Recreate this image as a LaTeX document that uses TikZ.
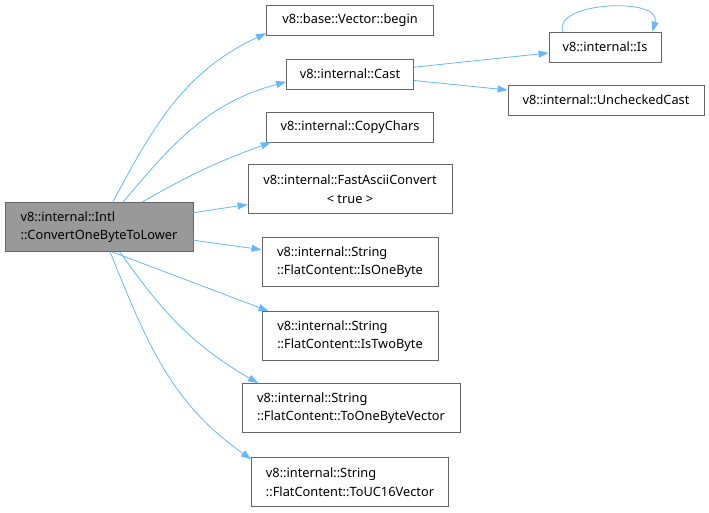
\documentclass[tikz,border=0pt]{standalone}
\usepackage{fontspec}
\setmainfont{Noto Sans}
\usetikzlibrary{arrows.meta,positioning}
\definecolor{cgEdge}{HTML}{63B8FF}
\definecolor{cgBorder}{HTML}{666666}
\definecolor{cgRoot}{HTML}{999999}
\tikzset{
  fnnode/.style={
    draw=cgBorder, fill=white, line width=0.8pt, inner xsep=7pt, inner ysep=0pt,
    minimum height=30pt, font=\fontsize{12.8}{18.5}\selectfont, align=left
  },
  fnwide/.style={fnnode, minimum height=49pt},
  rootnode/.style={fnwide, fill=cgRoot},
  call/.style={-{Triangle[length=10pt, width=7pt]}, line width=0.8pt, cgEdge}
}
\begin{document}
\begin{tikzpicture}[x=1pt, y=1pt]
  \useasboundingbox (0,0) rectangle (709,513);
  \node[rootnode, minimum width=188pt] (conv) at (99,286) {v8::internal::Intl\\::ConvertOneByteToLower};
  \node[fnnode, minimum width=167pt] (begin) at (350,493) {v8::base::Vector::begin};
  \node[fnnode, minimum width=127pt] (cast) at (350,439) {v8::internal::Cast};
  \node[fnnode, minimum width=167pt] (copy) at (350,386) {v8::internal::CopyChars};
  \node[fnwide, minimum width=204pt, align=center] (fast) at (350,324) {v8::internal::FastAsciiConvert\\< true >};
  \node[fnwide, minimum width=176pt] (isone) at (350,251) {v8::internal::String\\::FlatContent::IsOneByte};
  \node[fnwide, minimum width=176pt] (istwo) at (350,177) {v8::internal::String\\::FlatContent::IsTwoByte};
  \node[fnwide, minimum width=218pt] (tovec) at (351,105) {v8::internal::String\\::FlatContent::ToOneByteVector};
  \node[fnwide, minimum width=197pt] (touc) at (350,31) {v8::internal::String\\::FlatContent::ToUC16Vector};
  \node[fnnode, minimum width=112pt] (is) at (605,466) {v8::internal::Is};
  \node[fnnode, minimum width=196pt] (unch) at (606,413) {v8::internal::UncheckedCast};
  % calls
  \draw[call] (conv.61) to[out=62, in=205] (begin.189);
  \draw[call] (conv.46) to[out=50, in=195] (cast.187);
  \draw[call] (conv.30) to[out=30, in=200] (copy.191);
  \draw[call] (conv) -- (fast);
  \draw[call] (conv) -- (isone);
  \draw[call] (conv.-62) -- (istwo.163);
  \draw[call] (conv.-50) to[out=-55, in=150] (tovec.165);
  \draw[call] (conv.-66) to[out=-68, in=145] (touc.167);
  \draw[call] (cast) -- (is);
  \draw[call] (cast) -- (unch);
  \draw[call] (is.160) .. controls +(-10,30) and +(10,35) .. (is.18);
\end{tikzpicture}
\end{document}
